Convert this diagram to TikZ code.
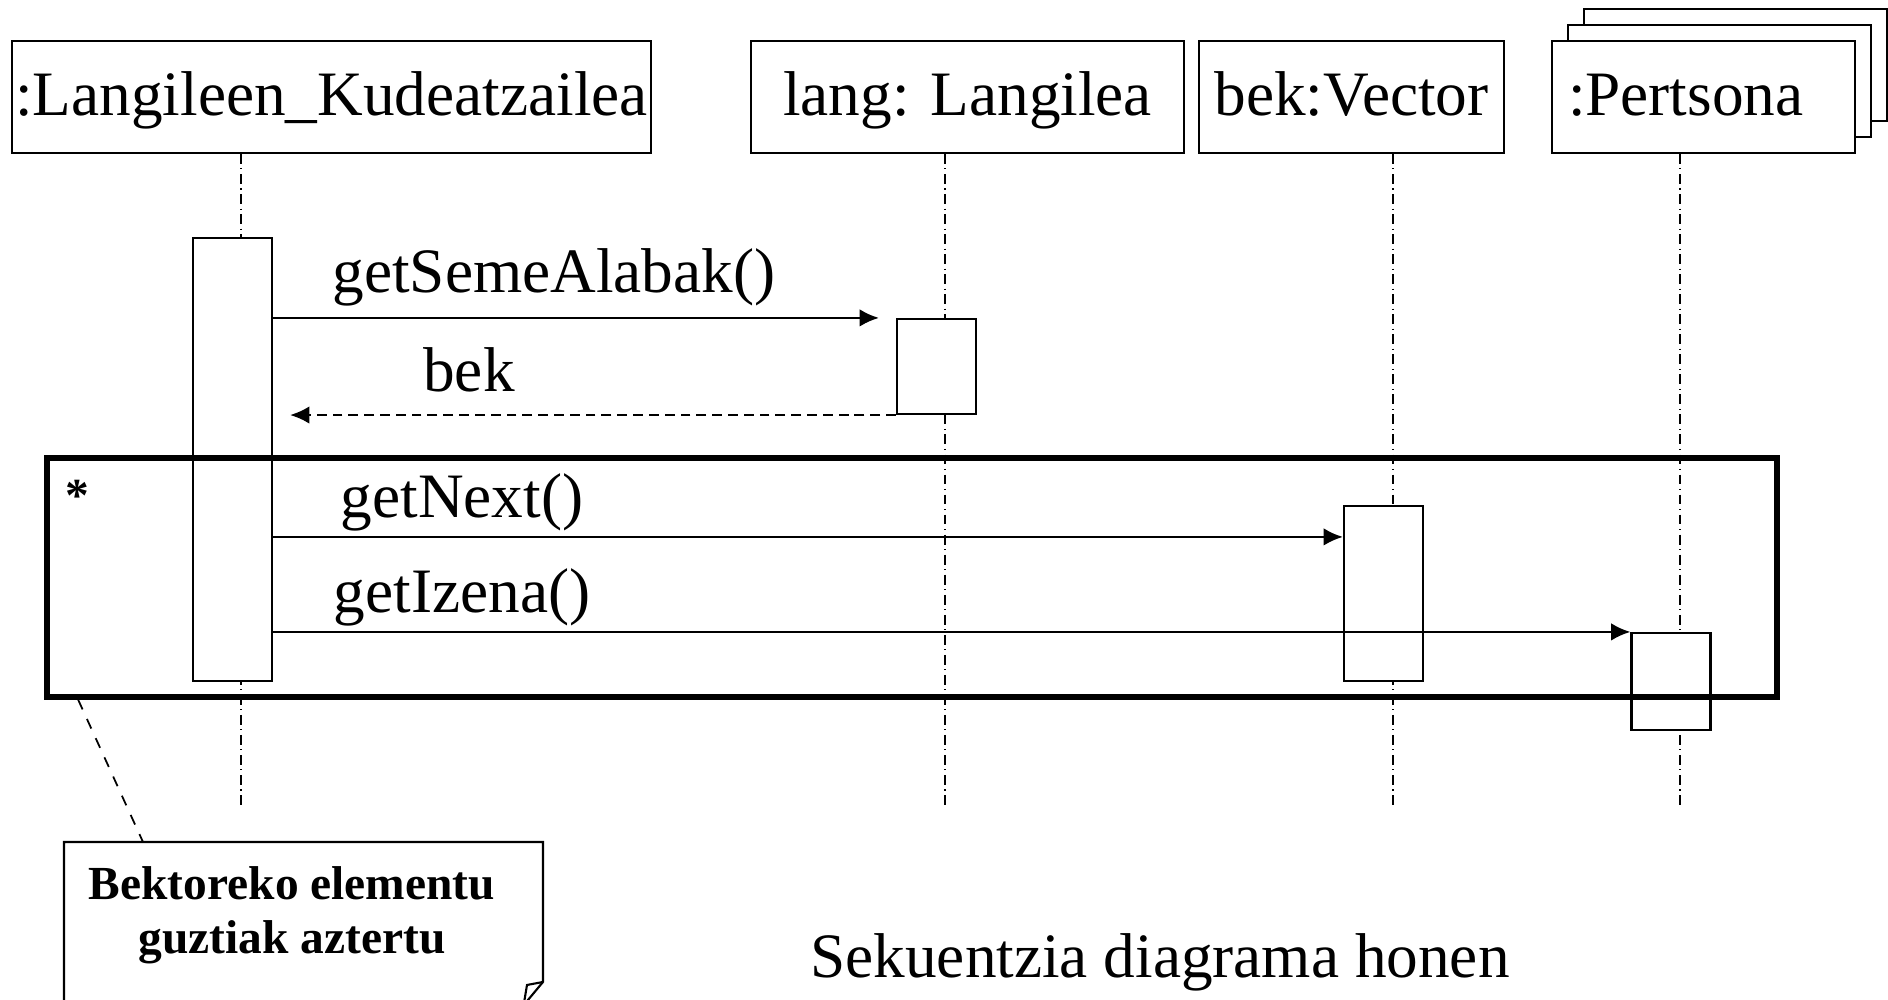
\documentclass[tikz,border=0pt]{standalone}
\usepackage{fontspec}
\setmainfont{Liberation Serif}
\usepackage{tikz}
\usetikzlibrary{calc}
\usetikzlibrary{positioning}
\usetikzlibrary{arrows.meta}

\begin{document}
\begin{tikzpicture}[
	objbox/.style={draw,line width=0.6pt,fill=white,minimum height=1.12cm,inner sep=0pt,text height=13.5pt,text depth=3.2pt,font=\fontsize{18pt}{21pt}\selectfont},
	actbox/.style={draw,line width=0.6pt,fill=white,minimum width=0.79cm,inner sep=0pt},
	lifeline/.style={line width=0.5pt,dash pattern=on 2.8pt off 1.3pt on 0.3pt off 1.3pt},
	msg/.style={-{Latex[length=5.5pt,width=5pt]},line width=0.7pt},
	msglabel/.style={anchor=base,inner sep=0pt,font=\fontsize{18pt}{21pt}\selectfont}]
	\path[use as bounding box,clip] (0,0) rectangle (18.88,10);
	% objects
	\node[objbox,minimum width=3.03cm] (pers3) at (17.355,9.35) {};
	\node[objbox,minimum width=3.03cm] (pers2) at (17.195,9.19) {};
	\node[objbox,minimum width=6.39cm] (kud) at (3.315,9.03) {:Langileen\_Kudeatzailea};
	\node[objbox,minimum width=4.33cm] (lang) at (9.675,9.03) {lang: Langilea};
	\node[objbox,minimum width=3.05cm] (bek) at (13.515,9.03) {bek:Vector};
	\node[objbox,minimum width=3.03cm,text width=2.71cm,align=left] (pers) at (17.035,9.03) {:Pertsona};
	% lifelines
	\coordinate (kudend) at (2.41,1.95);
	\coordinate (langend) at (9.45,1.95);
	\coordinate (bekend) at (13.93,1.95);
	\coordinate (persend) at (16.80,1.95);
	\draw[lifeline] (kud.south -| kudend) -- (kudend);
	\draw[lifeline] (lang.south -| langend) -- (langend);
	\draw[lifeline] (bek.south -| bekend) -- (bekend);
	\draw[lifeline] (pers.south -| persend) -- (persend);
	% activations
	\node[actbox,minimum height=4.43cm] (kudact) at (2.325,5.405) {};
	\node[actbox,minimum height=0.95cm] (langact) at (9.365,6.335) {};
	\node[actbox,minimum height=1.75cm] (bekact) at (13.835,4.065) {};
	\node[actbox,minimum height=0.97cm] (persact) at (16.71,3.185) {};
	% loop
	\node[draw,line width=1.6pt,minimum width=17.30cm,minimum height=2.39cm,inner sep=0pt] (loop) at (9.12,4.225) {};
	\node[anchor=base,inner sep=0pt,font=\bfseries\fontsize{13.5pt}{16pt}\selectfont] (star) at (0.775,4.88) {*};
	% messages
	\draw[msg] (kudact.east |- langact.north) -- ([xshift=-0.17cm]langact.north west);
	\node[msglabel] (getsa) at (5.54,7.07) {getSemeAlabak()};
	\draw[msg,dash pattern=on 2.8pt off 1.7pt] (langact.south west) -- ($(kudact.east |- langact.south)+(0.17,0)$);
	\node[msglabel] (beklabel) at (4.69,6.08) {bek};
	\coordinate (nextend) at ($(bekact.north west)+(0,-0.32)$);
	\draw[msg] (kudact.east |- nextend) -- (nextend);
	\node[msglabel] (getnext) at (4.62,4.82) {getNext()};
	\draw[msg] (kudact.east |- persact.north west) -- (persact.north west);
	\node[msglabel] (getizena) at (4.62,3.87) {getIzena()};
	% note
	\coordinate (notetop) at (1.43,1.58);
	\draw[line width=0.6pt] (0.64,-0.1) -- (0.64,1.58) -- (5.43,1.58) -- (5.43,0.18) -- (5.23,-0.06);
	\draw[line width=0.6pt] (5.43,0.18) -- (5.27,0.15) -- (5.245,0);
	\draw[dashed,line width=0.5pt] ($(loop.south west)+(0.34,0)$) -- (notetop);
	\node[anchor=base,align=center,inner sep=0pt,font=\bfseries\fontsize{13.5pt}{15.6pt}\selectfont] (note) at (2.92,0.46) {Bektoreko elementu\\guztiak aztertu};
	\node[msglabel] (caption) at (11.60,0.22) {Sekuentzia diagrama honen};
\end{tikzpicture}
\end{document}
